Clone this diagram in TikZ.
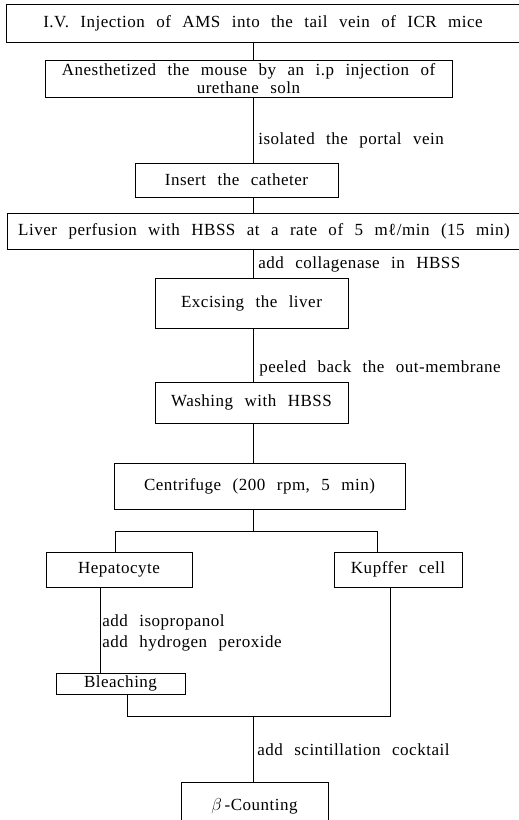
\documentclass[tikz,border=0pt]{standalone}
\usepackage{fontspec}
\setmainfont{Liberation Serif}[WordSpace=2.4, LetterSpace=3]
\usepackage{amsmath}
\usepackage{amssymb}
\tikzset{
	stepbox/.style={draw, line width=0.7pt, inner sep=0pt, align=center},
	note/.style={anchor=west, inner sep=0pt, align=left},
}

\begin{document}
\begin{tikzpicture}[x=1pt, y=-1pt, line width=0.7pt,
		font=\fontsize{17}{18}\selectfont]
			\useasboundingbox (0,0) rectangle (519,820);
			\clip (0,0) rectangle (519,820);
			\coordinate (spine) at (253,0);

			\node[stepbox, minimum width=514, minimum height=38] (inject) at (263,23)
				{I.V. Injection of AMS into the tail vein of ICR mice};
			\node[stepbox, minimum width=407, minimum height=37] (anesth) at (248.5,78.5)
				{Anesthetized the mouse by an i.p injection of\\urethane soln};
			\node[stepbox, minimum width=203, minimum height=34] (catheter) at (236.5,180)
				{Insert the catheter};
			\node[stepbox, minimum width=514, minimum height=36] (perfuse) at (264,231)
				{Liver perfusion with HBSS at a rate of 5 mℓ/min (15 min)};
			\node[stepbox, minimum width=193, minimum height=50] (excise) at (251.5,303)
				{Excising the liver};
			\node[stepbox, minimum width=193, minimum height=41] (wash) at (251.5,402.5)
				{Washing with HBSS};
			\node[stepbox, minimum width=291, minimum height=46] (spin) at (259.5,486)
				{Centrifuge (200 rpm, 5 min)};
			\node[stepbox, minimum width=146, minimum height=35] (hepato) at (119,569.5)
				{Hepatocyte};
			\node[stepbox, minimum width=128, minimum height=35] (kupffer) at (398,569.5)
				{Kupffer cell};
			\node[stepbox, minimum width=129, minimum height=21] (bleach) at (120.5,683.5)
				{Bleaching};
			\node[stepbox, minimum width=147, minimum height=48] (count) at (254.5,806)
				{$\beta$\,-Counting};

			\draw (inject.south -| spine) -- (anesth.north -| spine);
			\draw (anesth.south -| spine) -- (catheter.north -| spine);
			\draw (catheter.south -| spine) -- (perfuse.north -| spine);
			\draw (perfuse.south -| spine) -- (excise.north -| spine);
			\draw (excise.south -| spine) -- (wash.north -| spine);
			\draw (wash.south -| spine) -- (spin.north -| spine);

			\coordinate (hepIn) at (115,531);
			\coordinate (kupIn) at (377,531);
			\draw (spin.south -| spine) -- (hepIn -| spine);
			\draw (hepato.north -| hepIn) -- (hepIn) -- (kupIn) -- (kupffer.north -| kupIn);

			\coordinate (hepDown) at (100,0);
			\draw (hepato.south -| hepDown) -- (bleach.north -| hepDown);

			\coordinate (bleOut) at (127,716);
			\coordinate (kupOut) at (390,716);
			\draw (bleach.south -| bleOut) -- (bleOut) -- (kupOut) -- (kupffer.south -| kupOut);
			\draw (bleOut -| spine) -- (count.north -| spine);

			\node[note] (portal) at (258,140) {isolated the portal vein};
			\node[note] (collagen) at (258,264) {add collagenase in HBSS};
			\node[note] (peel) at (259,368) {peeled back the out-membrane};
			\node[note] (reagents) at (102,632.5) {add isopropanol\\[3pt]add hydrogen peroxide};
			\node[note] (cocktail) at (257,750) {add scintillation cocktail};
		\end{tikzpicture}
\end{document}
